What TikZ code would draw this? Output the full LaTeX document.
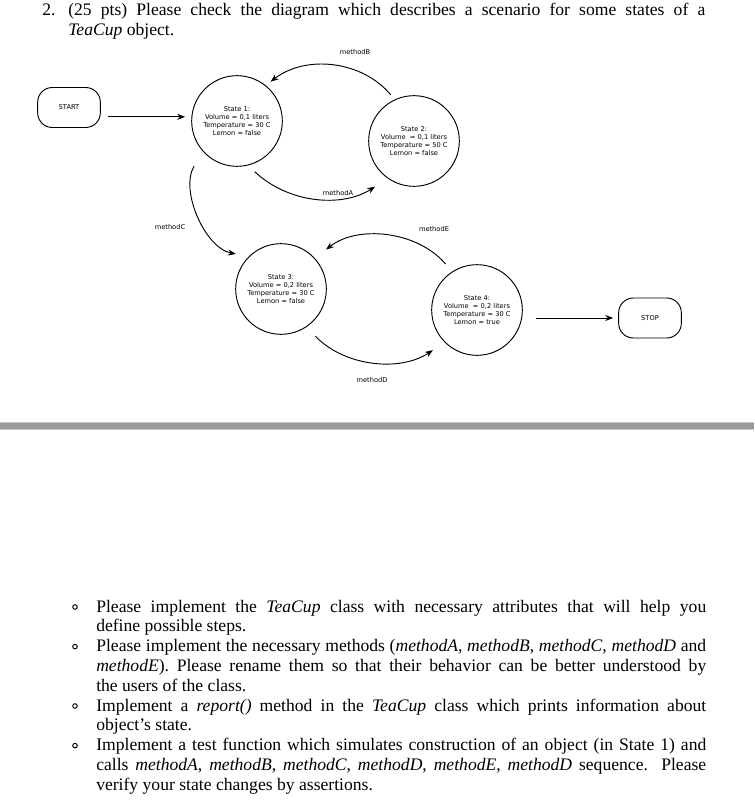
\documentclass[tikz,border=0pt]{standalone}
\usepackage{fontspec}
\setmainfont{Liberation Serif}
\newfontfamily\diagfont{DejaVu Sans}
\usetikzlibrary{arrows.meta,positioning,calc}
\definecolor{barlight}{RGB}{200,200,200}
\definecolor{bardark}{RGB}{153,153,153}
\newcommand{\statefont}{\diagfont\fontsize{5}{5.8}\selectfont}
\newcommand{\taskfont}{\fontsize{13.2}{15}\selectfont}
\newcommand{\fillline}[1]{\makebox[457.5pt][s]{#1}}
\tikzset{
    statenode/.style={draw, circle, line width=0.7pt, minimum size=68pt, inner sep=0pt, align=center, font=\statefont},
    termbox/.style={draw, rounded corners=11pt, line width=0.7pt, minimum width=47pt, minimum height=30pt, font=\statefont},
    methodlabel/.style={font=\statefont, inner sep=0pt},
    transarrow/.style={-{Stealth[length=6pt, width=4.5pt]}, line width=0.7pt},
    taskline/.style={anchor=base west, inner sep=0pt, font=\taskfont},
    bulletmark/.style={line width=0.75pt}
}

\begin{document}
\begin{tikzpicture}[x=0.75pt, y=-0.75pt]
    \useasboundingbox[fill=white] (0,0) rectangle (754,802);

    \node[taskline] (qnum) at (42,16) {2.};
    \node[taskline] (qline1) at (68,16) {\makebox[477.75pt][s]{(25 pts) Please check the diagram which describes a scenario for some states of a}};
    \node[taskline] (qline2) at (68,36) {\textit{TeaCup} object.};

    \node[termbox] (start) at (69,107.5) {START};
    \node[statenode] (s1) at (237,121) {State 1:\\Volume = 0,1 liters\\Temperature = 30 C\\Lemon = false};
    \node[statenode] (s2) at (414,141) {State 2:\\Volume\ \ = 0,1 liters\\Temperature = 50 C\\Lemon = false};
    \node[statenode] (s3) at (281,289) {State 3:\\Volume = 0,2 liters\\Temperature = 30 C\\Lemon = false};
    \node[statenode] (s4) at (477,310) {State 4:\\Volume\ \ = 0,2 liters\\Temperature = 30 C\\Lemon = true};
    \node[termbox] (stop) at (650,318) {STOP};

    \node[methodlabel] (lblB) at (355,52) {methodB};
    \node[methodlabel] (lblA) at (338,193) {methodA};
    \node[methodlabel] (lblC) at (170,227) {methodC};
    \node[methodlabel] (lblE) at (434,229) {methodE};
    \node[methodlabel] (lblD) at (372,380) {methodD};

    \draw[transarrow, shorten <=5.25pt, shorten >=4.5pt] ([yshift=-7pt]start.east) -- ([yshift=-7pt]start.east -| s1.west);
    \draw[transarrow, shorten <=4.5pt, shorten >=4.5pt] (s2.115) to[bend right=44] (s1.51);
    \draw[transarrow, shorten <=6.75pt, shorten >=11.25pt] (s1.-76) to[bend right=38] (s2.235);
    \draw[transarrow, shorten <=12.75pt, shorten >=9.75pt] (s1.222) to[bend right=55] (s3.135);
    \draw[transarrow, shorten <=7.5pt, shorten >=10.5pt] (s4.123) to[bend right=44] (s3.42);
    \draw[transarrow, shorten <=9.5pt, shorten >=10.5pt] (s3.-56) to[bend right=40] (s4.225);
    \draw[transarrow, shorten <=9.75pt, shorten >=3.75pt] (s4.east |- stop.west) -- (stop.west);

    \fill[barlight] (0,422.3) rectangle (754,430);
    \fill[bardark] (0,423.3) rectangle (754,429);

    \foreach \by in {607,646.6,706,745.6}
        \draw[bulletmark] (75,\by) circle (1.7pt);

    \node[taskline] (t1) at (96,612) {\fillline{Please implement the \textit{TeaCup} class with necessary attributes that will help you}};
    \node[taskline] (t2) at (96,631.8) {define possible steps.};
    \node[taskline] (t3) at (96,651.6) {\fillline{Please implement the necessary methods (\textit{methodA}, \textit{methodB}, \textit{methodC}, \textit{methodD} and}};
    \node[taskline] (t4) at (96,671.4) {\fillline{\textit{methodE}). Please rename them so that their behavior can be better understood by}};
    \node[taskline] (t5) at (96,691.2) {the users of the class.};
    \node[taskline] (t6) at (96,711) {\fillline{Implement a \textit{report()} method in the \textit{TeaCup} class which prints information about}};
    \node[taskline] (t7) at (96,730.8) {object’s state.};
    \node[taskline] (t8) at (96,750.6) {\fillline{Implement a test function which simulates construction of an object (in State 1) and}};
    \node[taskline] (t9) at (96,770.4) {\fillline{calls \textit{methodA}, \textit{methodB}, \textit{methodC}, \textit{methodD}, \textit{methodE}, \textit{methodD} sequence. Please}};
    \node[taskline] (t10) at (96,790.2) {verify your state changes by assertions.};
\end{tikzpicture}
\end{document}
